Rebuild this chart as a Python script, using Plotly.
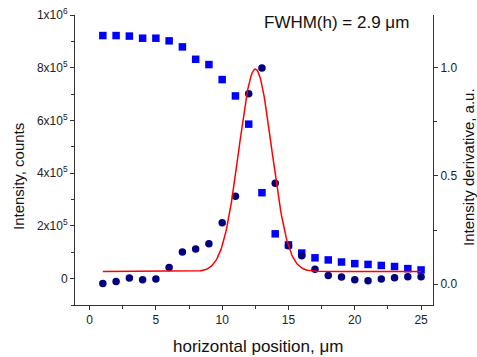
import numpy as np
import plotly.graph_objects as go

# ---- data ----
position = list(range(1, 26))
intensity = [9.22e5, 9.22e5, 9.20e5, 9.12e5, 9.12e5, 9.02e5, 8.79e5, 8.32e5, 8.12e5, 7.55e5,
             6.93e5, 5.86e5, 3.26e5, 1.70e5, 1.28e5, 0.97e5, 0.79e5, 0.71e5, 0.63e5, 0.57e5,
             0.54e5, 0.50e5, 0.46e5, 0.38e5, 0.33e5]
derivative = [0.003, 0.012, 0.028, 0.020, 0.023, 0.077, 0.148, 0.162, 0.187, 0.284,
              0.406, 0.880, 1.000, 0.466, 0.177, 0.131, 0.068, 0.039, 0.032, 0.020,
              0.015, 0.023, 0.029, 0.034, 0.034]
# Gaussian fit parameters
fit_center = 12.5
fit_fwhm = 2.9
fit_base = 0.058
fit_amp = 0.937
fit_range = [1, 25]

left_tickvals = [0, 2e5, 4e5, 6e5, 8e5, 1e6]
left_ticktext = ["0", "2x10<sup>5</sup>", "4x10<sup>5</sup>", "6x10<sup>5</sup>",
                 "8x10<sup>5</sup>", "1x10<sup>6</sup>"]
right_tickvals = [0.0, 0.5, 1.0]
right_ticktext = ["0.0", "0.5", "1.0"]
x_tickvals = [0, 5, 10, 15, 20, 25]

sigma = fit_fwhm / (2 * np.sqrt(2 * np.log(2)))
xf = np.linspace(fit_range[0], fit_range[1], 400)
yf = fit_base + fit_amp * np.exp(-(xf - fit_center) ** 2 / (2 * sigma ** 2))

FONT = "Liberation Sans, Arial, sans-serif"
W, H = 477, 357
ML, MR, MT, MB = 75, 44, 15, 52
PW, PH = W - ML - MR, H - MT - MB


def px(x):
    return (x - ML) / PW


def py(y):
    return 1 - (y - MT) / PH


fig = go.Figure()
fig.add_trace(go.Scatter(x=position, y=intensity, mode="markers",
                         marker=dict(symbol="square", size=7.5, color="#0000FF"),
                         yaxis="y", showlegend=False))
fig.add_trace(go.Scatter(x=position, y=derivative, mode="markers",
                         marker=dict(symbol="circle", size=7.5, color="#000080"),
                         yaxis="y2", showlegend=False))
fig.add_trace(go.Scatter(x=xf, y=yf, mode="lines",
                         line=dict(color="#FF0000", width=1.5),
                         yaxis="y2", showlegend=False))

axis_common = dict(showgrid=False, zeroline=False, showline=True, linecolor="#333",
                   linewidth=1, ticks="outside", ticklen=4, tickcolor="#333",
                   automargin=False,
                   tickfont=dict(family=FONT, size=12, color="#222"))

fig.update_layout(
    width=W, height=H,
    margin=dict(l=ML, r=MR, t=MT, b=MB),
    paper_bgcolor="white", plot_bgcolor="white",
    font=dict(family=FONT, color="#222"),
    xaxis=dict(range=[-1.1, 25.9], tickvals=x_tickvals,
               minor=dict(ticks="outside", ticklen=3, dtick=2.5, tick0=0, tickcolor="#333"),
               **axis_common),
    yaxis=dict(range=[-1e5, 1e6], tickvals=left_tickvals, ticktext=left_ticktext,
               minor=dict(ticks="outside", ticklen=3, dtick=1e5, tick0=0, tickcolor="#333"),
               **axis_common),
    yaxis2=dict(range=[-0.097, 1.245], overlaying="y", side="right",
                tickvals=right_tickvals, ticktext=right_ticktext,
                minor=dict(ticks="outside", ticklen=3, dtick=0.25, tick0=0, tickcolor="#333"),
                **axis_common),
    annotations=[
        dict(text="FWHM(h) = 2.9 μm", x=px(336), y=py(22), xref="paper", yref="paper",
             xanchor="center", yanchor="middle", showarrow=False,
             font=dict(family=FONT, size=17, color="#111")),
        dict(text="horizontal position, μm", x=px(258), y=py(346), xref="paper", yref="paper",
             xanchor="center", yanchor="middle", showarrow=False,
             font=dict(family=FONT, size=17, color="#111")),
        dict(text="Intensity, counts", x=px(18), y=py(177), xref="paper", yref="paper",
             xanchor="center", yanchor="middle", showarrow=False, textangle=-90,
             font=dict(family=FONT, size=15, color="#111")),
        dict(text="Intensity derivative, a.u.", x=px(468), y=py(167), xref="paper", yref="paper",
             xanchor="center", yanchor="middle", showarrow=False, textangle=-90,
             font=dict(family=FONT, size=15, color="#111")),
    ],
)

fig.write_html("out.html", config={"displayModeBar": False},
               post_script="document.body.style.margin='0';")
